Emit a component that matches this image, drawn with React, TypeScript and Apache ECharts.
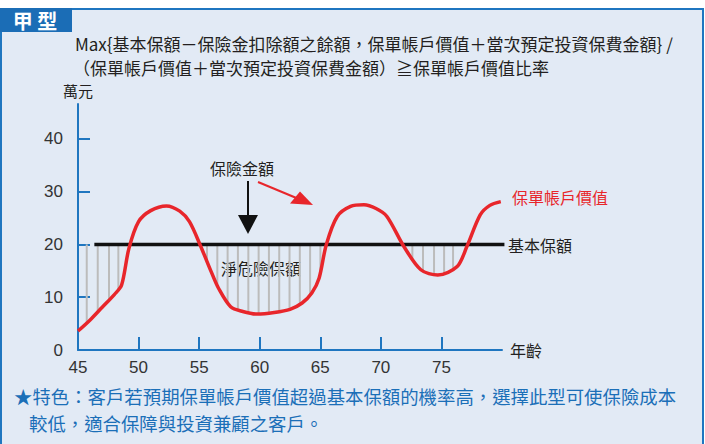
import React, { useEffect, useRef } from "react";
import * as echarts from "echarts";

// ---- data ----
const curveAges = [45, 46, 47, 48, 48.6, 49.2, 50, 51, 52.3, 53.4, 54.2, 55.1, 56, 56.6, 57.6, 58.6, 59.8, 61.2, 62.5, 63.5, 64.3, 64.9, 65.5, 66.4, 67.5, 68.6, 69.6, 70.5, 71.9, 73.3, 74.7, 76.3, 77.1, 78.2, 79, 79.9];
const curveValues = [3.6, 5.7, 8.1, 10.5, 12.3, 19.2, 24.3, 26.4, 27.3, 26.3, 24.3, 19.8, 14.8, 11.7, 8.2, 7.3, 6.8, 7.1, 7.7, 8.9, 10.8, 13.6, 20.0, 25.3, 27.2, 27.5, 26.8, 25.3, 19.6, 15.2, 14.2, 15.8, 19.6, 25.6, 27.4, 28.1];
const baseAmount = 20;
const baseAges = [46.35, 80.2];
const hatchAges = [45.72, 46.63, 47.56, 48.33, 55.65, 56.5, 57.35, 58.2, 59.06, 59.91, 60.76, 61.61, 62.46, 63.31, 64.16, 65.01, 72.6, 73.48, 74.39, 75.22, 75.96];
const hatchLows = [5.2, 7.3, 9.5, 11.4, 16.8, 12.4, 9.2, 7.8, 7.1, 6.85, 6.9, 7.2, 7.6, 8.6, 10.5, 14.3, 17.3, 15.1, 14.4, 14.5, 15.3];
const xTickLabels = [45, 50, 55, 60, 65, 70, 75];
const yTickLabels = [0, 10, 20, 30, 40];

const titleLine1 = "Max{基本保額－保險金扣除額之餘額，保單帳戶價值＋當次預定投資保費金額} /";
const titleLine2 = "（保單帳戶價值＋當次預定投資保費金額）≧保單帳戶價值比率";
const noteLine1 = "★特色：客戶若預期保單帳戶價值超過基本保額的機率高，選擇此型可使保險成本";
const noteLine2 = "較低，適合保障與投資兼顧之客戶。";

const CJK = '"Noto Sans CJK TC", "Noto Sans CJK SC", sans-serif';
const NUM = '"Liberation Sans", Arial, sans-serif';
const BLUE = "#1f76c0";
const BG = "#e2eaf5";

export default function App() {
  const ref = useRef<HTMLDivElement>(null);
  useEffect(() => {
    document.body.style.margin = "0";
    if (!ref.current) return;
    const chart = echarts.init(ref.current, undefined, { renderer: "svg" });
    const option: any = {
      animation: false,
      backgroundColor: "#ffffff",
      grid: { left: 78, right: 203, top: 104, bottom: 94 },
      xAxis: {
        type: "value",
        min: 45,
        max: 80,
        interval: 5,
        name: "年齡",
        nameLocation: "end",
        nameGap: 8,
        nameTextStyle: { fontFamily: CJK, fontSize: 16, color: "#231f20", verticalAlign: "middle" },
        axisLine: { show: true, lineStyle: { color: BLUE, width: 2 } },
        axisTick: { show: true, inside: true, length: 13, lineStyle: { color: BLUE, width: 2 }, customValues: [50, 55, 60, 65, 70, 75] },
        axisLabel: {
          show: true,
          margin: 9,
          color: "#333333",
          fontFamily: NUM,
          fontSize: 17,
          customValues: xTickLabels,
          formatter: (v: number) => (xTickLabels.indexOf(v) >= 0 ? String(v) : ""),
        },
        splitLine: { show: false },
      },
      yAxis: {
        type: "value",
        min: 0,
        max: 46.6,
        interval: 10,
        name: "萬元",
        nameLocation: "end",
        nameGap: 6,
        nameTextStyle: { fontFamily: CJK, fontSize: 15, color: "#231f20", align: "center" },
        axisLine: { show: true, lineStyle: { color: BLUE, width: 2 } },
        axisTick: { show: true, inside: true, length: 12, lineStyle: { color: BLUE, width: 2 }, customValues: [10, 20, 30, 40] },
        axisLabel: {
          show: true,
          margin: 15,
          color: "#333333",
          fontFamily: NUM,
          fontSize: 17,
          customValues: yTickLabels,
          formatter: (v: number) => (yTickLabels.indexOf(v) >= 0 ? String(v) : ""),
        },
        splitLine: { show: false },
      },
      graphic: [
        { type: "rect", z: -10, shape: { x: 1, y: 9, width: 702, height: 440 }, style: { fill: BG, stroke: BLUE, lineWidth: 2 } },
        { type: "rect", z: -9, shape: { x: 0, y: 8, width: 72, height: 24 }, style: { fill: "#1b6db6" } },
        { type: "text", z: -8, x: 35, y: 20, style: { text: "甲 型", fill: "#ffffff", font: `bold 20px ${CJK}`, textAlign: "center", textVerticalAlign: "middle" } },
        { type: "text", x: 75, y: 43, style: { text: titleLine1, fill: "#231f20", font: `17px ${CJK}`, textAlign: "left", textVerticalAlign: "middle" } },
        { type: "text", x: 73, y: 67, style: { text: titleLine2, fill: "#231f20", font: `17px ${CJK}`, textAlign: "left", textVerticalAlign: "middle" } },
        { type: "text", x: 14, y: 396, style: { text: noteLine1, fill: "#1b6fb8", font: `18.4px ${CJK}`, textAlign: "left", textVerticalAlign: "middle" } },
        { type: "text", x: 29, y: 423, style: { text: noteLine2, fill: "#1b6fb8", font: `18.4px ${CJK}`, textAlign: "left", textVerticalAlign: "middle" } },
        { type: "text", x: 242, y: 168, style: { text: "保險金額", fill: "#231f20", font: `16px ${CJK}`, textAlign: "center", textVerticalAlign: "middle" } },
        { type: "text", x: 261, y: 268, style: { text: "淨危險保額", fill: "#231f20", font: `16px ${CJK}`, textAlign: "center", textVerticalAlign: "middle" } },
        { type: "text", x: 512, y: 197, style: { text: "保單帳戶價值", fill: "#e8262b", font: `16px ${CJK}`, textAlign: "left", textVerticalAlign: "middle" } },
        { type: "text", x: 508, y: 245, style: { text: "基本保額", fill: "#231f20", font: `16px ${CJK}`, textAlign: "left", textVerticalAlign: "middle" } },
        { type: "line", shape: { x1: 248, y1: 181, x2: 248, y2: 220 }, style: { stroke: "#111111", lineWidth: 2 } },
        { type: "polygon", shape: { points: [[238, 215], [258, 215], [248, 234]] }, style: { fill: "#111111" } },
        { type: "line", shape: { x1: 258, y1: 182, x2: 300, y2: 199.5 }, style: { stroke: "#e8262b", lineWidth: 2 } },
        { type: "polygon", shape: { points: [[313, 205], [290, 203.5], [300, 191.5]] }, style: { fill: "#e8262b" } },
      ],
      series: [
        {
          type: "custom",
          z: 1,
          data: hatchAges.map((a, i) => [a, hatchLows[i]]),
          encode: { x: 0, y: 1 },
          renderItem: (params: any, api: any) => {
            const x = api.value(0);
            const low = api.value(1);
            const p1 = api.coord([x, baseAmount]);
            const p2 = api.coord([x, low]);
            return {
              type: "line",
              shape: { x1: p1[0], y1: p1[1], x2: p2[0], y2: p2[1] },
              style: { stroke: "#bcbcbc", lineWidth: 2 },
            };
          },
          silent: true,
        },
        {
          type: "line",
          z: 2,
          data: baseAges.map((a) => [a, baseAmount]),
          clip: false,
          symbol: "none",
          lineStyle: { color: "#111111", width: 3.5 },
          silent: true,
        },
        {
          type: "line",
          z: 3,
          data: curveAges.map((a, i) => [a, curveValues[i]]),
          smooth: 0.3,
          clip: false,
          symbol: "none",
          lineStyle: { color: "#e8262b", width: 3.5 },
          silent: true,
        },
      ],
    };
    chart.setOption(option);
    return () => chart.dispose();
  }, []);
  return <div ref={ref} style={{ width: 705, height: 444 }} />;
}
